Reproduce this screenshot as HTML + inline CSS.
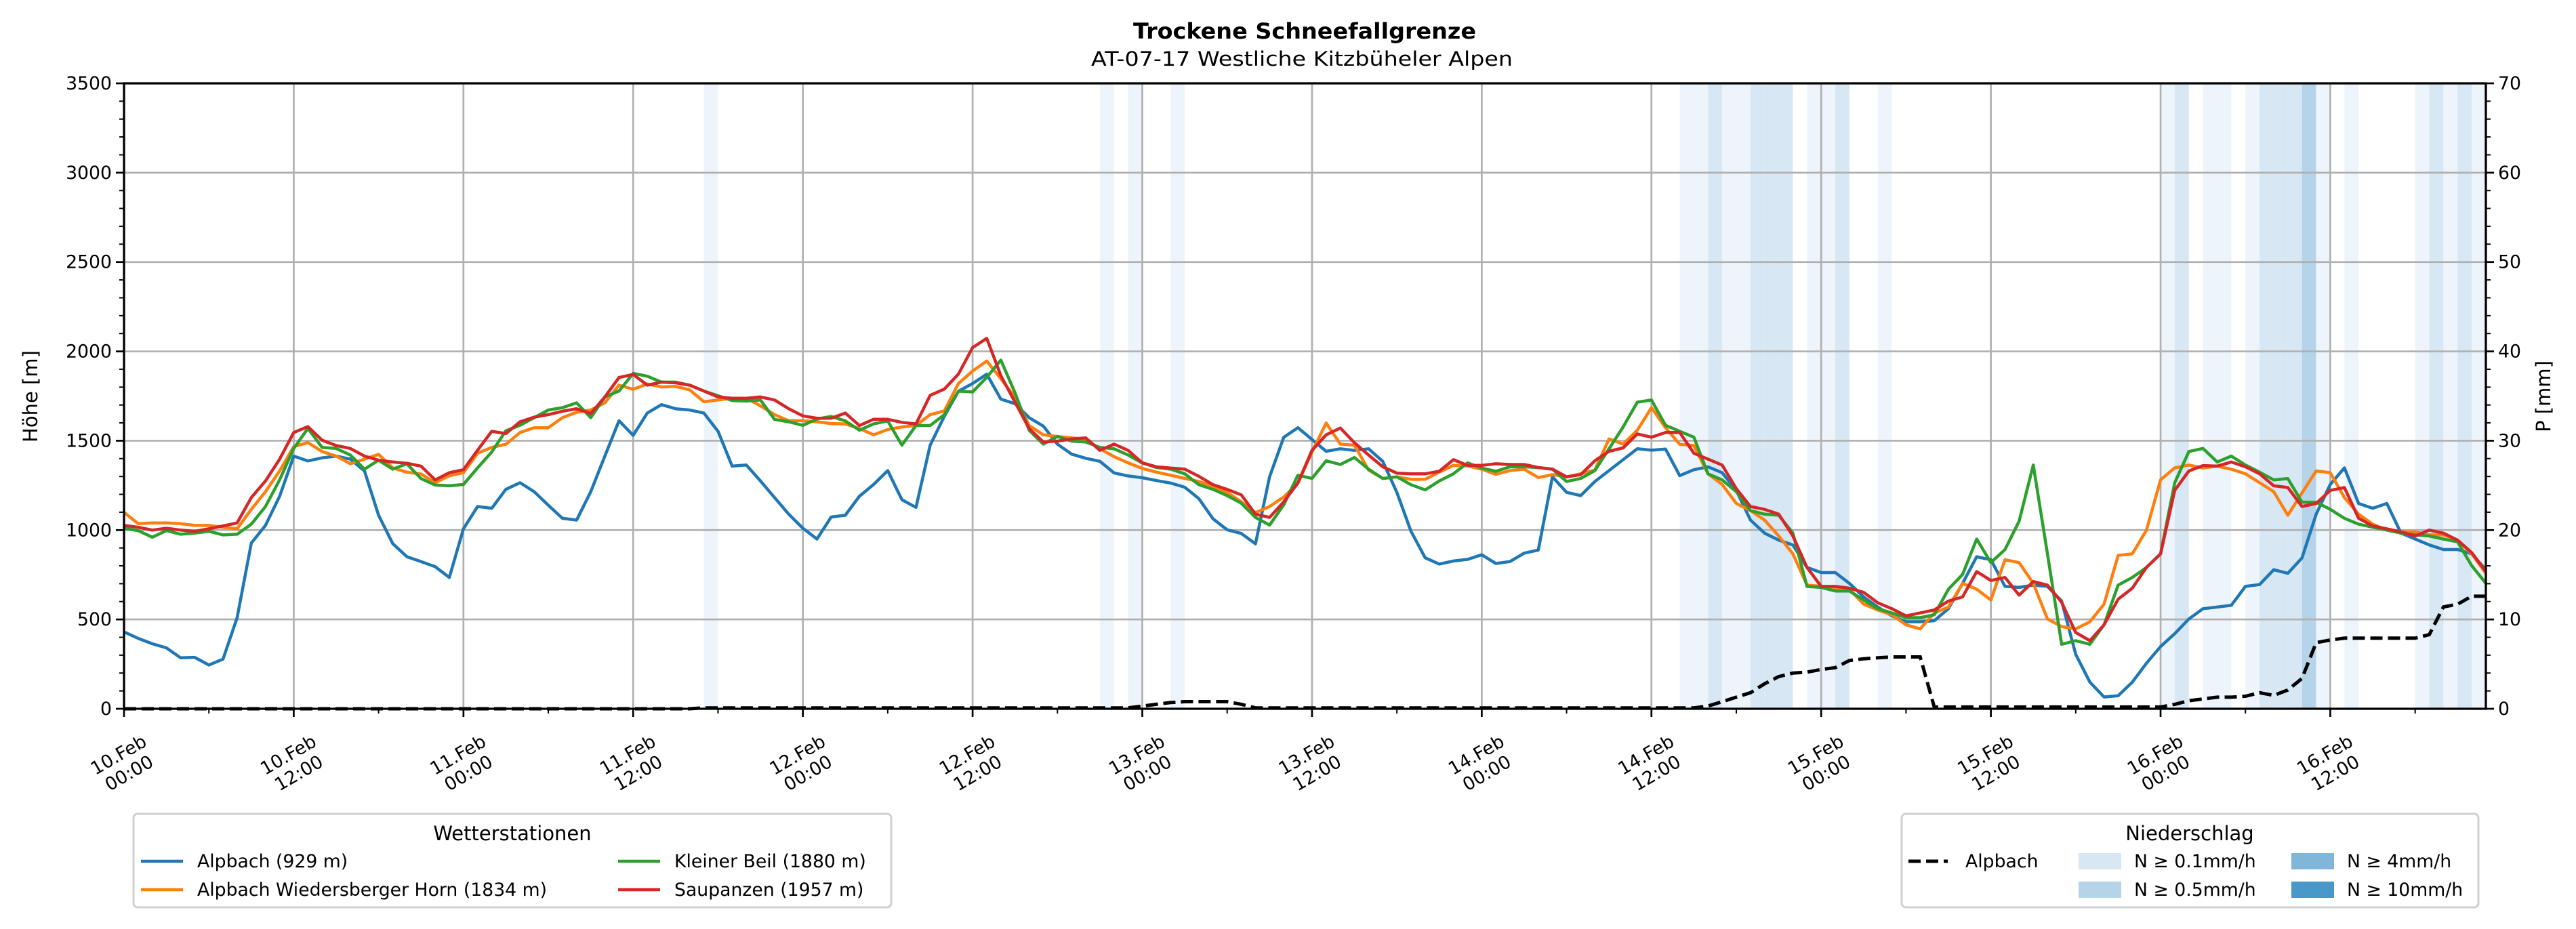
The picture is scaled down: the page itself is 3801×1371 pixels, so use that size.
<!DOCTYPE html>
<html><head><meta charset="utf-8">
<style>
html,body{margin:0;padding:0;background:#fff;}
svg{display:block;font-family:"DejaVu Sans","Liberation Sans",sans-serif;}
</style></head>
<body>
<svg id="chart" width="3801" height="1371" viewBox="0 0 3801 1371" xmlns="http://www.w3.org/2000/svg">
<rect x="0" y="0" width="3801" height="1371" fill="#fff"/>
<text x="1925" y="57" text-anchor="middle" font-size="32" font-weight="bold" textLength="506" lengthAdjust="spacingAndGlyphs">Trockene Schneefallgrenze</text>
<text x="1921" y="97" text-anchor="middle" font-size="29" textLength="622" lengthAdjust="spacingAndGlyphs">AT-07-17 Westliche Kitzbüheler Alpen</text>
<g id="bands"></g>
<g id="grid"></g>
<g id="series"></g>
<g id="axes"></g>
<g id="legends"></g>
</svg>
<script>
const hours = Array.from({length:168},(_,i)=>i);
const alpbach = [430,394,364,341,285,288,245,278,510,927,1026,1189,1414,1387,1404,1414,1397,1331,1083,924,851,824,795,735,1007,1132,1122,1228,1265,1215,1139,1066,1056,1215,1414,1612,1530,1655,1702,1679,1672,1655,1553,1358,1364,1275,1182,1089,1010,950,1073,1083,1189,1255,
1333,1170,1127,1475,1637,1777,1820,1873,1733,1707,1629,1582,1481,1425,1402,1385,1320,1303,1293,1277,1263,1240,1176,1063,1002,981,923,1298,1519,1573,1507,1441,1455,1446,1455,1385,1211,993,845,810,827,836,862,813,824,871,888,1298,1211,1193,1272,1333,1394,1455,
1447,1453,1305,1338,1354,1321,1222,1056,983,944,917,791,762,762,702,626,569,520,487,487,493,560,702,851,834,685,679,692,685,603,305,149,66,73,149,255,348,420,503,560,569,579,685,695,778,758,844,1089,1255,1348,1149,1122,1149,983,950,917,891,891,867,778];
const wiedersberger = [1099,1036,1040,1040,1036,1026,1026,1016,1007,1116,1215,1331,1467,1490,1440,1414,1371,1397,1424,1348,1324,1314,1265,1304,1321,1430,1463,1480,1546,1573,1573,1629,1659,1672,1712,1811,1788,1818,1801,1804,1785,1718,1728,1738,1738,1695,1646,1612,1612,1606,1596,1594,1568,1533,
1563,1577,1585,1646,1667,1820,1890,1946,1847,1742,1585,1533,1524,1516,1507,1455,1411,1376,1345,1324,1307,1289,1272,1246,1211,1158,1097,1132,1185,1263,1437,1599,1481,1475,1336,1289,1298,1284,1284,1324,1362,1359,1341,1312,1333,1341,1294,1310,1298,1315,1336,1510,1481,1559,
1685,1573,1480,1473,1315,1255,1149,1109,1056,967,867,692,685,669,669,586,553,526,470,447,536,569,702,669,609,834,818,702,503,460,447,487,586,858,867,1000,1281,1348,1364,1348,1358,1341,1315,1265,1215,1083,1208,1331,1321,1182,1089,1033,1000,990,990,973,973,944,867,758];
const kleinerBeil = [1010,997,960,997,977,983,993,973,977,1033,1132,1281,1457,1569,1463,1457,1420,1341,1391,1341,1371,1288,1252,1248,1255,1348,1437,1556,1586,1629,1672,1685,1712,1629,1745,1778,1877,1861,1828,1828,1811,1778,1752,1725,1722,1728,1619,1606,1586,1622,1636,1611,1559,1594,
1611,1475,1585,1585,1646,1777,1773,1855,1951,1768,1559,1481,1524,1498,1493,1463,1455,1420,1376,1350,1341,1315,1254,1228,1193,1150,1071,1028,1141,1307,1289,1388,1367,1406,1341,1289,1298,1254,1225,1275,1315,1376,1347,1329,1354,1354,1350,1341,1272,1289,1333,1455,1577,1716,
1728,1586,1553,1520,1315,1281,1215,1109,1089,1083,983,685,679,659,659,609,560,536,510,510,526,669,752,950,818,891,1050,1364,867,361,381,361,470,692,735,791,867,1265,1440,1457,1381,1414,1364,1324,1281,1288,1156,1156,1116,1066,1033,1016,1000,983,973,967,950,934,801,702];
const saupanzen = [1026,1016,1000,1010,1000,993,1007,1023,1040,1182,1275,1397,1546,1579,1503,1473,1457,1414,1391,1381,1374,1358,1281,1321,1338,1447,1553,1540,1606,1632,1646,1665,1679,1652,1745,1854,1871,1811,1828,1824,1811,1778,1745,1738,1738,1745,1728,1679,1639,1626,1626,1655,1585,1620,
1620,1603,1594,1754,1789,1873,2021,2073,1864,1716,1568,1493,1498,1510,1516,1446,1481,1446,1376,1354,1347,1341,1301,1254,1228,1197,1089,1071,1158,1263,1446,1533,1571,1489,1420,1354,1319,1315,1315,1329,1394,1362,1362,1371,1367,1367,1350,1341,1298,1310,1388,1441,1460,1538,
1520,1546,1546,1430,1397,1364,1232,1132,1116,1089,967,791,685,685,675,652,593,560,520,536,553,603,626,768,718,735,636,712,692,596,427,381,470,613,675,791,867,1222,1331,1361,1358,1381,1354,1315,1248,1238,1132,1149,1222,1238,1066,1023,1007,990,967,1000,983,944,874,768];
const precipAlpbach = [0,0,0,0,0,0,0,0,0,0,0,0,0,0,0,0,0,0,0,0,0,0,0,0,0,0,0,0,0,0,0,0,0,0,0,0,0,0,0,0,0,0.1,0.1,0.1,0.1,0.1,0.1,0.1,0.1,0.1,0.1,0.1,0.1,0.1,0.1,0.1,0.1,0.1,0.1,0.1,0.1,0.1,0.1,0.1,0.1,0.1,0.1,0.1,0.1,0.1,0.1,0.1,
0.3,0.5,0.7,0.8,0.8,0.8,0.8,0.5,0.1,0.1,0.1,0.1,0.1,0.1,0.1,0.1,0.1,0.1,0.1,0.1,0.1,0.1,0.1,0.1,0.1,0.1,0.1,0.1,0.1,0.1,0.1,0.1,0.1,0.1,0.1,0.1,0.1,0.1,0.1,0.1,
0.3,0.8,1.3,1.8,2.8,3.6,4.0,4.1,4.4,4.6,5.4,5.6,5.7,5.8,5.8,5.8,0.2,0.2,0.2,0.2,0.2,0.2,0.2,0.2,0.2,0.2,0.2,0.2,0.2,0.2,0.2,0.2,0.2,
0.5,0.9,1.1,1.3,1.3,1.4,1.8,1.5,2.1,3.4,7.4,7.7,7.9,7.9,7.9,7.9,7.9,7.9,8.3,11.4,11.7,12.6,12.6];
const bandHours = [41,69,71,74,110,111,112,113,114,115,116,117,119,120,121,124,144,145,147,148,150,151,152,153,154,155,157,162,163,164,165,166];
const bandLevels = [0,0,0,0,0,0,1,0,0,1,1,1,0,0,1,0,0,1,0,0,0,1,1,1,2,0,0,0,1,0,1,0];
const yTicks = [0,500,1000,1500,2000,2500,3000,3500];
const pTicks = [0,10,20,30,40,50,60,70];
const xTickLabels = [["10.Feb","00:00"],["10.Feb","12:00"],["11.Feb","00:00"],["11.Feb","12:00"],["12.Feb","00:00"],["12.Feb","12:00"],["13.Feb","00:00"],["13.Feb","12:00"],["14.Feb","00:00"],["14.Feb","12:00"],["15.Feb","00:00"],["15.Feb","12:00"],["16.Feb","00:00"],["16.Feb","12:00"]];

const NS="http://www.w3.org/2000/svg";
const L=183,R=3668,T=123,B=1046;
const HMAX=167, YMAX=3500, PMAX=70;
const xs=h=>L+(R-L)*h/HMAX;
const ys=v=>B-(B-T)*v/YMAX;
const yp=v=>B-(B-T)*v/PMAX;
function mk(tag,attrs,parent){const e=document.createElementNS(NS,tag);for(const k in attrs)e.setAttribute(k,attrs[k]);parent.appendChild(e);return e;}
const gB=document.getElementById('bands'),gG=document.getElementById('grid'),gS=document.getElementById('series'),gA=document.getElementById('axes'),gL=document.getElementById('legends');
const bandColors=['#eef4fb','#d7e7f4','#b5d4e9','#7fb6d9','#4a97c9'];
bandHours.forEach((h,i)=>{
  const r=mk('rect',{x:xs(h),y:T,width:xs(h+1)-xs(h),height:B-T,fill:bandColors[bandLevels[i]]},gB);
  
  
});
yTicks.forEach(v=>{
  if(v>0&&v<YMAX){const l=mk('line',{x1:L,x2:R,y1:ys(v),y2:ys(v),stroke:'#b0b0b0','stroke-width':2.7},gG);
  
  }
});
xTickLabels.forEach((t,i)=>{
  const h=i*12; if(h===0)return;
  const l=mk('line',{x1:xs(h),x2:xs(h),y1:T,y2:B,stroke:'#b0b0b0','stroke-width':2.7},gG);
  
  
});
function path(arr,sc){return arr.map((v,i)=>(i?'L':'M')+xs(hours[i]).toFixed(1)+' '+sc(v).toFixed(1)).join(' ');}
const series=[[alpbach,'#1f77b4','line-alpbach'],[wiedersberger,'#ff7f0e','line-alpbach-wiedersberger-horn'],[kleinerBeil,'#2ca02c','line-kleiner-beil'],[saupanzen,'#d62728','line-saupanzen']];
series.forEach(s=>{
  const p=mk('path',{d:path(s[0],ys),fill:'none',stroke:s[1],'stroke-width':4.5,'stroke-linejoin':'round'},gS);
  
  
});
const pp=mk('path',{d:path(precipAlpbach,yp),fill:'none',stroke:'#000','stroke-width':5,'stroke-dasharray':'18 8'},gS);


// frame
const fr=mk('rect',{x:L,y:T,width:R-L,height:B-T,fill:'none',stroke:'#000','stroke-width':3.3},gA);


// y ticks
yTicks.forEach(v=>{
  mk('line',{x1:L-12,x2:L,y1:ys(v),y2:ys(v),stroke:'#000','stroke-width':2.7},gA);
  const t=mk('text',{x:L-18,y:ys(v)+9,'text-anchor':'end','font-size':26.7},gA);t.textContent=v;
  
  
});
for(let v=100;v<YMAX;v+=100){if(v%500)mk('line',{x1:L-7,x2:L,y1:ys(v),y2:ys(v),stroke:'#000','stroke-width':2},gA);}
pTicks.forEach(v=>{
  mk('line',{x1:R,x2:R+12,y1:yp(v),y2:yp(v),stroke:'#000','stroke-width':2.7},gA);
  const t=mk('text',{x:R+18,y:yp(v)+9,'text-anchor':'start','font-size':26.7},gA);t.textContent=v;
  
  
});
for(let v=2;v<PMAX;v+=2){if(v%10)mk('line',{x1:R,x2:R+7,y1:yp(v),y2:yp(v),stroke:'#000','stroke-width':2},gA);}
xTickLabels.forEach((t,i)=>{
  const h=i*12,x=xs(h);
  mk('line',{x1:x,x2:x,y1:B,y2:B+12,stroke:'#000','stroke-width':2.7},gA);
  mk('line',{x1:xs(h+6),x2:xs(h+6),y1:B,y2:B+7,stroke:'#000','stroke-width':2},gA);
  const g=mk('g',{transform:`translate(${x},1128) rotate(-30)`},gA);
  
  
  const a=mk('text',{x:0,y:-7,'text-anchor':'middle','font-size':26.7},g);a.textContent=t[0];
  const b=mk('text',{x:0,y:24,'text-anchor':'middle','font-size':26.7},g);b.textContent=t[1];
});
const yl=mk('text',{transform:'translate(55,585) rotate(-90)','text-anchor':'middle','font-size':29},gA);yl.textContent='Höhe [m]';


const pl=mk('text',{transform:'translate(3763,585) rotate(-90)','text-anchor':'middle','font-size':29},gA);pl.textContent='P [mm]';


// legends
function box(x,y,w,h,name){const r=mk('rect',{x:x,y:y,width:w,height:h,rx:6,fill:'#fff',stroke:'#d0d0d0','stroke-width':3},gL);

}
box(197,1201,1118,138,'legend-stations');
let t=mk('text',{x:756,y:1240,'text-anchor':'middle','font-size':29},gL);t.textContent='Wetterstationen';


const entries=[['Alpbach (929 m)','#1f77b4',208,1271],['Alpbach Wiedersberger Horn (1834 m)','#ff7f0e',208,1313],['Kleiner Beil (1880 m)','#2ca02c',912,1271],['Saupanzen (1957 m)','#d62728',912,1313]];
entries.forEach(e=>{
  const g=mk('g',{},gL);
  
  
  mk('line',{x1:e[2],x2:e[2]+62,y1:e[3],y2:e[3],stroke:e[1],'stroke-width':4.5},g);
  const tx=mk('text',{x:e[2]+83,y:e[3]+9,'font-size':26.7},g);tx.textContent=e[0];
});
box(2806,1201,851,138,'legend-precip');
t=mk('text',{x:3231,y:1240,'text-anchor':'middle','font-size':29},gL);t.textContent='Niederschlag';


let g=mk('g',{},gL);


mk('line',{x1:2816,x2:2874,y1:1271,y2:1271,stroke:'#000','stroke-width':5,'stroke-dasharray':'18 8'},g);
t=mk('text',{x:2900,y:1280,'font-size':26.7},g);t.textContent='Alpbach';
const pent=[['N ≥ 0.1mm/h',bandColors[1],3067,1271],['N ≥ 0.5mm/h',bandColors[2],3067,1313],['N ≥ 4mm/h',bandColors[3],3381,1271],['N ≥ 10mm/h',bandColors[4],3381,1313]];
pent.forEach(e=>{
  const gg=mk('g',{},gL);
  
  
  mk('rect',{x:e[2],y:e[3]-12,width:63,height:24,fill:e[1]},gg);
  const tx=mk('text',{x:e[2]+82,y:e[3]+9,'font-size':26.7},gg);tx.textContent=e[0];
});
</script>
</body></html>
